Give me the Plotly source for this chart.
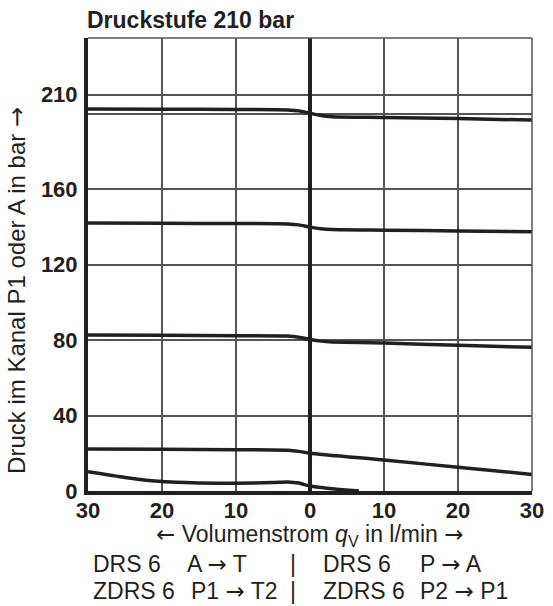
import plotly.graph_objects as go

# ---- data (x < 0: left side A->T / P1->T2, x > 0: right side P->A / P2->P1) ----
x1 = [-30, -20, -10, -3, -1.5, 0, 1.5, 3, 10, 20, 30]
y1 = [202.4, 202.3, 202.1, 201.9, 201.4, 200.1, 198.9, 198.3, 197.9, 197.3, 196.5]

x2 = [-30, -20, -10, -3, -1.5, 0, 1.5, 3, 10, 20, 30]
y2 = [142.0, 141.8, 141.7, 141.5, 141.0, 139.8, 138.9, 138.5, 138.2, 137.8, 137.3]

x3 = [-30, -20, -10, -3, -1.5, 0, 1.5, 3, 10, 20, 30]
y3 = [82.6, 82.5, 82.3, 82.1, 81.5, 80.3, 79.4, 79.0, 78.4, 77.2, 76.1]

x4 = [-30, -20, -10, -3, -1.5, 0, 10, 20, 30]
y4 = [22.3, 22.1, 21.9, 21.6, 21.0, 20.0, 16.4, 12.6, 8.8]

x5 = [-30, -25, -20, -15, -10, -5, -3, -1.5, 0, 2, 4, 6.6]
y5 = [10.2, 7.2, 5.0, 4.3, 4.1, 4.5, 4.8, 4.2, 2.6, 1.6, 0.8, 0.0]

curves = [(x1, y1), (x2, y2), (x3, y3), (x4, y4), (x5, y5)]

x_tickvals = [-30, -20, -10, 0, 10, 20, 30]
x_ticktext = ["30", "20", "10", "0", "10", "20", "30"]
y_tickvals = [0, 40, 80, 120, 160, 200, 210]
y_ticktext = ["0", "40", "80", "120", "160", "", "210"]

ARW_R = '<span style="font-family:DejaVu Sans">→</span>'
ARW_L = '<span style="font-family:DejaVu Sans">←</span>'

title_text = "Druckstufe 210 bar"
x_title = ARW_L + " Volumenstrom <i>q</i><sub>V</sub> in l/min " + ARW_R
y_title = "Druck im Kanal P1 oder A in bar " + ARW_R
row1 = ["DRS 6", "A " + ARW_R + " T", "|", "DRS 6", "P " + ARW_R + " A"]
row2 = ["ZDRS 6", "P1 " + ARW_R + " T2", "|", "ZDRS 6", "P2 " + ARW_R + " P1"]

# ---- layout ----
W, H = 553, 606
L, R, T, B = 88, 9, 38, 115
PX0, PX1 = L, W - R
PY0, PY1 = T, H - B
INK = "#231f20"
GRID = "#555555"
FONT = "Liberation Sans, Arial, Helvetica, sans-serif"


def px(x):
    return (x - PX0) / (PX1 - PX0)


def py(y):
    return (PY1 - y) / (PY1 - PY0)


fig = go.Figure()
for xs, ys in curves:
    fig.add_trace(go.Scatter(
        x=xs, y=ys, mode="lines",
        line=dict(color=INK, width=3.5, shape="spline", smoothing=0.6),
        showlegend=False, hoverinfo="skip", cliponaxis=True,
    ))

fig.update_xaxes(
    range=[-30, 30], tickvals=x_tickvals, ticktext=x_ticktext,
    showgrid=True, gridcolor=GRID, gridwidth=1.5,
    zeroline=True, zerolinecolor=INK, zerolinewidth=4,
    showline=True, linecolor=INK, linewidth=4, ticks="",
    ticklabelstandoff=-3, ticklabeloverflow="allow",
    tickfont=dict(family=FONT, size=22, color=INK, weight="bold"),
)
fig.update_yaxes(
    range=[0, 240], tickvals=y_tickvals, ticktext=y_ticktext,
    showgrid=True, gridcolor=GRID, gridwidth=1.5,
    zeroline=False,
    showline=True, linecolor=INK, linewidth=4, ticks="",
    ticklabelstandoff=2, ticklabeloverflow="allow",
    tickfont=dict(family=FONT, size=22, color=INK, weight="bold"),
)

shapes = [
    dict(type="line", xref="paper", yref="paper", x0=0, x1=1, y0=1, y1=1,
         line=dict(color=GRID, width=1.5)),
    dict(type="line", xref="paper", yref="paper", x0=1, x1=1, y0=0, y1=1,
         line=dict(color=GRID, width=1.5)),
]

ann = []
ann.append(dict(text="<b>" + title_text + "</b>", x=px(85), y=py(20), xref="paper", yref="paper",
                xanchor="left", yanchor="middle", showarrow=False,
                font=dict(family=FONT, size=23, color=INK)))
ann.append(dict(text=x_title, x=px(316), y=py(535), xref="paper", yref="paper",
                xanchor="center", yanchor="middle", showarrow=False,
                font=dict(family=FONT, size=23, color=INK)))
ann.append(dict(text=y_title, x=px(15), y=py(290), xref="paper", yref="paper",
                xanchor="center", yanchor="middle", showarrow=False, textangle=-90,
                font=dict(family=FONT, size=24, color=INK)))
col_x = [91, 188, 293, 327, 427]
col_x2 = [91, 192, 293, 327, 427]
for txt, cx in zip(row1, col_x):
    ann.append(dict(text=txt, x=px(cx), y=py(564), xref="paper", yref="paper",
                    xanchor="left", yanchor="middle", showarrow=False,
                    font=dict(family=FONT, size=23, color=INK)))
for txt, cx in zip(row2, col_x2):
    ann.append(dict(text=txt, x=px(cx), y=py(591), xref="paper", yref="paper",
                    xanchor="left", yanchor="middle", showarrow=False,
                    font=dict(family=FONT, size=23, color=INK)))

fig.update_layout(
    width=W, height=H,
    margin=dict(l=L, r=R, t=T, b=B),
    paper_bgcolor="white", plot_bgcolor="white",
    shapes=shapes, annotations=ann,
    font=dict(family=FONT, color=INK),
)

fig.write_html("out.html", config={"displayModeBar": False},
               post_script="document.body.style.margin='0';")
